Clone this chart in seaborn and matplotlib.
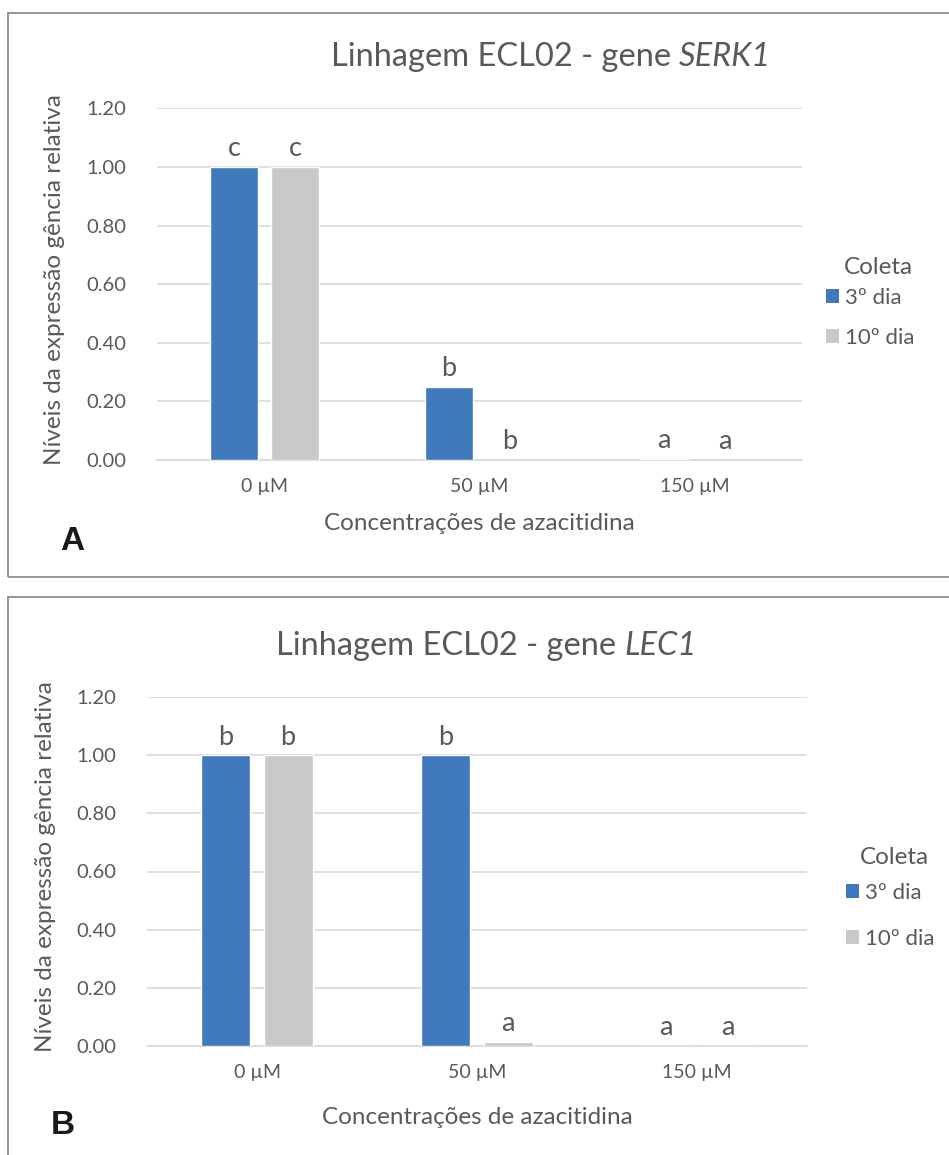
import matplotlib
matplotlib.use("Agg")
import matplotlib.pyplot as plt
import matplotlib.patches as mpatches
import pandas as pd
import seaborn as sns

# Data
concentrations = ["0 µM", "50 µM", "150 µM"]
coleta_levels = ["3º dia", "10º dia"]

serk1_dia3 = [1.00, 0.25, 0.005]
serk1_dia10 = [1.00, 0.001, 0.0]
serk1_letters_dia3 = ["c", "b", "a"]
serk1_letters_dia10 = ["c", "b", "a"]

lec1_dia3 = [1.00, 1.00, 0.0]
lec1_dia10 = [1.00, 0.015, 0.0]
lec1_letters_dia3 = ["b", "b", "a"]
lec1_letters_dia10 = ["b", "a", "a"]

yticks = [0.0, 0.2, 0.4, 0.6, 0.8, 1.0, 1.2]

BLUE = "#4079BC"
GRAY = "#C8C9CB"
TXT = "#595959"
GRID = "#D9D9D9"
FONT = ["Lato", "DejaVu Sans"]

sns.set_theme(style="white")
plt.rcParams["font.family"] = FONT

W, H = 949, 1155
fig = plt.figure(figsize=(W / 100, H / 100), dpi=100)
renderer = fig.canvas.get_renderer()


def px_axes(left, top, right, bottom):
    return fig.add_axes([left / W, 1 - bottom / H, (right - left) / W, (bottom - top) / H])


def frame(x0, y0, x1, y1):
    rect = mpatches.Rectangle((x0 / W, 1 - y1 / H), (x1 - x0) / W, (y1 - y0) / H,
                              transform=fig.transFigure, fill=False,
                              edgecolor="#8C8C8C", linewidth=1.3, zorder=0)
    fig.add_artist(rect)


def title(prefix, gene, cx, cy, size=23.5):
    """Centered title with the gene name in italics."""
    t1 = fig.text(0, 1 - cy / H, prefix, ha="left", va="center", fontsize=size, color=TXT)
    t2 = fig.text(0, 1 - cy / H, gene, ha="left", va="center", fontsize=size,
                  color=TXT, style="italic")
    w1 = t1.get_window_extent(renderer).width
    w2 = t2.get_window_extent(renderer).width
    x0 = cx - (w1 + w2) / 2
    t1.set_x(x0 / W)
    t2.set_x((x0 + w1) / W)


def panel(ax, dia3, dia10, let3, let10, gene, title_x, title_y,
          leg_title_xy, leg_x, leg_mid_y, leg_space,
          lab, lab_x, lab_y, xlab_y, ylab_x):
    df = pd.DataFrame({
        "conc": concentrations * 2,
        "valor": dia3 + dia10,
        "coleta": [coleta_levels[0]] * 3 + [coleta_levels[1]] * 3,
    })
    sns.barplot(data=df, x="conc", y="valor", hue="coleta", order=concentrations,
                hue_order=coleta_levels, palette=[BLUE, GRAY], width=0.567, gap=0.21,
                saturation=1, legend=False, errorbar=None, ax=ax, zorder=3)
    ax.set_ylim(0, 1.2)
    ax.set_xlim(-0.5, 2.5)
    ax.set_yticks(yticks)
    ax.set_yticklabels([f"{v:.2f}" for v in yticks], color=TXT, fontsize=14.5)
    ax.tick_params(axis="x", colors=TXT, labelsize=14, length=0, pad=13)
    ax.tick_params(axis="y", length=0, pad=22)
    ax.yaxis.grid(True, color=GRID, linewidth=1.2, zorder=0)
    ax.set_axisbelow(True)
    for s in ["top", "right", "left"]:
        ax.spines[s].set_visible(False)
    ax.spines["bottom"].set_color(GRID)
    ax.spines["bottom"].set_linewidth(1.2)
    ax.set_xlabel("")
    ax.set_ylabel("")

    # significance letters above each bar
    for container, letters in zip(ax.containers, [let3, let10]):
        for bar, letter in zip(container, letters):
            ax.annotate(letter, (bar.get_x() + bar.get_width() / 2, bar.get_height()),
                        xytext=(0, 4), textcoords="offset points", ha="center",
                        va="bottom", fontsize=19.5, color=TXT)

    title("Linhagem ECL02 - gene ", gene, title_x, title_y)
    pos = ax.get_position()
    fig.text(ylab_x / W, (pos.y0 + pos.y1) / 2 + 0.004,
             "Níveis da expressão gência relativa", rotation=90,
             ha="center", va="center", fontsize=17.5, color=TXT)
    fig.text((pos.x0 + pos.x1) / 2, 1 - xlab_y / H, "Concentrações de azacitidina",
             ha="center", va="center", fontsize=17.5, color=TXT)
    fig.text(lab_x / W, 1 - lab_y / H, lab, ha="left", va="center",
             fontsize=24, fontweight="bold", color="#1A1A1A",
             family=["Liberation Sans", "DejaVu Sans"])

    # legend: title as its own text, entries below
    fig.text(leg_title_xy[0] / W, 1 - leg_title_xy[1] / H, "Coleta",
             ha="center", va="center", fontsize=17.5, color=TXT)
    handles = [mpatches.Patch(facecolor=BLUE, edgecolor="none", label=coleta_levels[0]),
               mpatches.Patch(facecolor=GRAY, edgecolor="none", label=coleta_levels[1])]
    leg = fig.legend(handles=handles, loc="center left",
                     bbox_to_anchor=(leg_x / W, 1 - leg_mid_y / H), frameon=False,
                     fontsize=16, handlelength=0.6, handleheight=0.6,
                     handletextpad=0.25, labelspacing=leg_space,
                     borderpad=0, borderaxespad=0)
    for t in leg.get_texts():
        t.set_color(TXT)


# Panel frames
frame(8, 13, 960, 577)
frame(8, 597, 960, 1170)

axA = px_axes(157, 108.4, 802, 460)
panel(axA, serk1_dia3, serk1_dia10, serk1_letters_dia3, serk1_letters_dia10,
      "SERK1", 551, 57, (878, 267), 826, 318, 0.89,
      "A", 60, 542, 524, 55)

axB = px_axes(147, 697, 807, 1046)
panel(axB, lec1_dia3, lec1_dia10, lec1_letters_dia3, lec1_letters_dia10,
      "LEC1", 486, 646, (894, 858), 846, 916, 1.16,
      "B", 51, 1125, 1117, 46)

fig.savefig("out.png", dpi=100)
